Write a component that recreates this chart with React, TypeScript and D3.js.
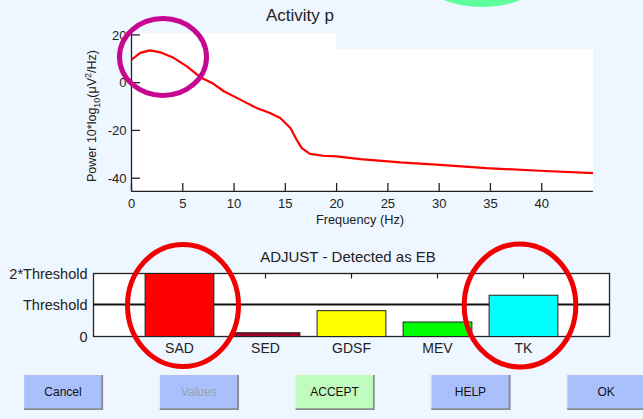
import React from "react";
import * as d3 from "d3";

// PSD curve (frequency Hz, power dB)
const freqs = [0, 0.85, 1.8, 2.8, 4.1, 5.4, 6.7, 8.0, 9.0, 10.6, 12.2, 13.5, 14.5, 15.5, 16.1, 16.6, 17.4, 18.7, 20, 22.3, 26.2, 30.1, 34.6, 39.8, 45];
const powers = [9.6, 12.5, 13.5, 12.7, 10.4, 6.8, 2.3, -0.5, -3.6, -7.1, -10.6, -12.7, -14.8, -19.0, -23.9, -27.4, -29.8, -30.6, -30.9, -32, -33.4, -34.4, -35.8, -36.9, -37.9];
const xTicks = [0, 5, 10, 15, 20, 25, 30, 35, 40];
const yTicks = [20, 0, -20, -40];

// ADJUST features
const features = ["SAD", "SED", "GDSF", "MEV", "TK"];
const featureValues = [2, 0.12, 0.82, 0.46, 1.31];
const featureColors = ["#ff0000", "#a0002c", "#ffff00", "#00ff00", "#00ffff"];
const levelLabels = ["0", "Threshold", "2*Threshold"];
const levelValues = [0, 1, 2];

const buttons = ["Cancel", "Values", "ACCEPT", "HELP", "OK"];
const buttonFills = ["#aac0fd", "#aac0fd", "#c0fcc0", "#aac0fd", "#aac0fd"];
const buttonText = ["#111", "#9aa0aa", "#111", "#111", "#111"];

const FONT = "'Liberation Sans', Arial, sans-serif";

export default function App() {
  const x = d3.scaleLinear().domain([0, 45]).range([131.5, 593]);
  const y = d3.scaleLinear().domain([-45.5, 20.8]).range([191.3, 33]);
  const pts: [number, number][] = freqs.map((f, i) => [f, powers[i]]);
  const line = d3
    .line<[number, number]>()
    .x((d) => x(d[0]))
    .y((d) => y(d[1]));

  const bx = d3.scaleLinear().domain([0, 6]).range([93.5, 609.5]);
  const by = d3.scaleLinear().domain([0, 2]).range([336.5, 273.5]);
  const bw = bx(0.8) - bx(0);

  return (
    <svg
      width={643}
      height={419}
      style={{ position: "absolute", left: 0, top: 0 }}
      fontFamily={FONT}
    >
      <rect x={0} y={0} width={643} height={419} fill="#eef6ff" />
      <circle cx={482} cy={-103} r={110} fill="#5cff9a" />

      {/* PSD plot */}
      <text x={266} y={21} fontSize={17} fill="#222">
        Activity p
      </text>
      <rect x={131.5} y={33} width={336 - 131.5} height={17} fill="#fff" />
      <rect x={131.5} y={49} width={593 - 131.5} height={191.3 - 49} fill="#fff" />
      <path d={line(pts) || ""} fill="none" stroke="#ff0000" strokeWidth={2.2} strokeLinejoin="round" />
      <line x1={131.5} x2={131.5} y1={33} y2={191.3} stroke="#222" strokeWidth={1.3} />
      <line x1={131.5} x2={593} y1={191.3} y2={191.3} stroke="#222" strokeWidth={1.3} />
      {xTicks.map((t) => (
        <g key={"xt" + t}>
          <line x1={x(t)} x2={x(t)} y1={191.3} y2={183} stroke="#222" strokeWidth={1.3} />
          <text x={x(t)} y={207.5} fontSize={13} textAnchor="middle" fill="#222">
            {t}
          </text>
        </g>
      ))}
      {yTicks.map((t) => (
        <g key={"yt" + t}>
          <line x1={131.5} x2={140} y1={y(t)} y2={y(t)} stroke="#222" strokeWidth={1.3} />
          <text x={126.5} y={y(t) + 4.6} fontSize={13} textAnchor="end" fill="#222">
            {t}
          </text>
        </g>
      ))}
      <text x={360} y={224} fontSize={12.8} textAnchor="middle" fill="#222">
        Frequency (Hz)
      </text>
      <text
        transform="translate(96,116) rotate(-90)"
        fontSize={12.5}
        textAnchor="middle"
        fill="#222"
      >
        Power 10*log
        <tspan fontSize={9} dy={4}>10</tspan>
        <tspan dy={-4}>(μV</tspan>
        <tspan fontSize={9} dy={-5}>2</tspan>
        <tspan dy={5}>/Hz)</tspan>
      </text>

      {/* ADJUST bar plot */}
      <text x={348} y={262} fontSize={15} textAnchor="middle" fill="#222">
        ADJUST - Detected as EB
      </text>
      <rect x={93.5} y={273.5} width={516} height={63} fill="#fff" stroke="#222" strokeWidth={1.3} />
      {features.map((f, i) => (
        <line key={"bt" + f} x1={bx(i + 1)} x2={bx(i + 1)} y1={273.5} y2={278.5} stroke="#222" strokeWidth={1.2} />
      ))}
      <line x1={93.5} x2={609.5} y1={by(1) - 0.5} y2={by(1) - 0.5} stroke="#111" strokeWidth={2} />
      {features.map((f, i) => (
        <rect
          key={"bar" + f}
          x={bx(i + 1) - bw / 2}
          y={by(featureValues[i])}
          width={bw}
          height={by(0) - by(featureValues[i])}
          fill={featureColors[i]}
          stroke="#222"
          strokeWidth={1}
        />
      ))}
      {features.map((f, i) => (
        <text key={"bl" + f} x={bx(i + 1)} y={353} fontSize={14} textAnchor="middle" fill="#222">
          {f}
        </text>
      ))}
      {levelLabels.map((l, i) => (
        <text key={"ll" + l} x={87.5} y={by(levelValues[i]) + 5} fontSize={14.5} textAnchor="end" fill="#222">
          {l}
        </text>
      ))}

      {/* annotations */}
      <ellipse cx={163} cy={57} rx={43.5} ry={38.5} fill="none" stroke="#c5088f" strokeWidth={5} />
      <ellipse cx={183} cy={305.5} rx={55.5} ry={61} fill="none" stroke="#f00000" strokeWidth={5} />
      <ellipse cx={520} cy={305.5} rx={55.8} ry={61.5} fill="none" stroke="#f00000" strokeWidth={5} />

      {/* buttons */}
      {buttons.map((b, i) => {
        const bx0 = 23 + i * 135.8;
        const by0 = 374;
        const w = 80;
        const h = 36;
        return (
          <g key={"btn" + b}>
            <rect x={bx0} y={by0} width={w} height={h} fill={buttonFills[i]} />
            <polyline
              points={`${bx0 + 0.5},${by0 + h} ${bx0 + 0.5},${by0 + 0.5} ${bx0 + w},${by0 + 0.5}`}
              fill="none"
              stroke="#f4f4f4"
              strokeWidth={1.2}
            />
            <polyline
              points={`${bx0 + 1},${by0 + h - 0.8} ${bx0 + w - 0.8},${by0 + h - 0.8} ${bx0 + w - 0.8},${by0 + 1}`}
              fill="none"
              stroke="#8a8a8a"
              strokeWidth={1.8}
            />
            <text x={bx0 + w / 2} y={by0 + h / 2 + 4.3} fontSize={12} textAnchor="middle" fill={buttonText[i]}>
              {b}
            </text>
          </g>
        );
      })}
    </svg>
  );
}
